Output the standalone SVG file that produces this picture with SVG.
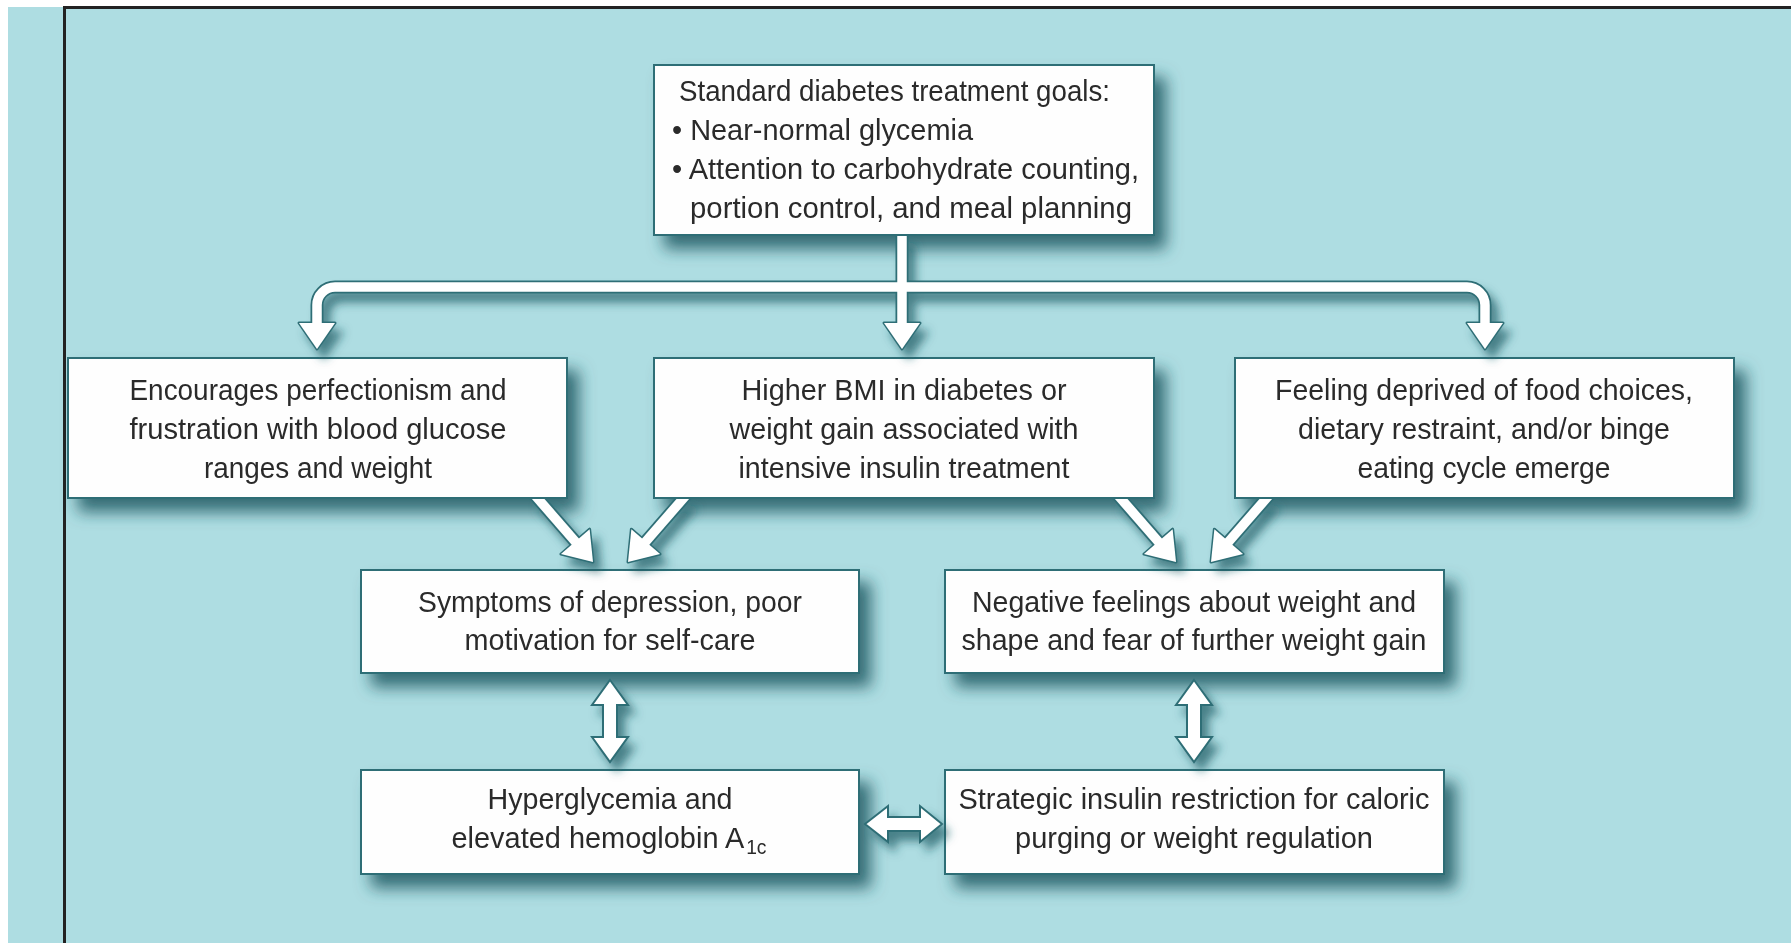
<svg xmlns="http://www.w3.org/2000/svg" xmlns:xlink="http://www.w3.org/1999/xlink" width="1791" height="943" viewBox="0 0 1791 943">
<style>
.box{fill:#fefefe;stroke:#2f6e76;stroke-width:2}
.t{font-family:"Liberation Sans",Arial,sans-serif;font-size:30px;fill:#2b2b2b}
.c{text-anchor:middle}
.sd{fill:none;stroke:#2f6e76;stroke-width:13}
.sw{fill:none;stroke:#ffffff;stroke-width:9.5}
.hd{fill:#2f6e76;stroke:#2f6e76;stroke-width:3;stroke-linejoin:round}
.hw{fill:#ffffff}
.dbl{fill:#ffffff;stroke:#2f6e76;stroke-width:2;stroke-linejoin:miter}
</style>
<defs>
<filter id="shadow" x="-10%" y="-10%" width="130%" height="160%">
<feDropShadow dx="11" dy="13" stdDeviation="8" flood-color="#1a5a63" flood-opacity="0.85"/>
</filter>
<filter id="ashadow" x="-20%" y="-20%" width="140%" height="160%">
<feDropShadow dx="7" dy="9" stdDeviation="5" flood-color="#1a5a63" flood-opacity="0.7"/>
</filter>
<clipPath id="belowMid"><rect x="0" y="499" width="1791" height="100"/></clipPath>
<g id="diag">
<path class="sd" d="M0,-115 V-24"/>
<polygon class="hd" points="-19,-27 19,-27 0,0"/>
<path class="sw" d="M0,-115 V-24"/>
<polygon class="hw" points="-19,-27 19,-27 0,0"/>
</g>
</defs>

<rect x="0" y="0" width="1791" height="943" fill="#ffffff"/>
<rect x="8" y="7" width="1783" height="936" fill="#aedde2"/>
<line x1="63" y1="7.5" x2="1791" y2="7.5" stroke="#222222" stroke-width="3"/>
<line x1="64.5" y1="6" x2="64.5" y2="943" stroke="#222222" stroke-width="3"/>

<g id="nodes" filter="url(#shadow)">
<g id="n-top">
<rect class="box" x="654" y="65" width="500" height="170"/>
<text class="t" x="679" y="101" textLength="431" lengthAdjust="spacingAndGlyphs">Standard diabetes treatment goals:</text>
<text class="t" x="672" y="140" textLength="301" lengthAdjust="spacingAndGlyphs">• Near-normal glycemia</text>
<text class="t" x="672" y="179" textLength="467" lengthAdjust="spacingAndGlyphs">• Attention to carbohydrate counting,</text>
<text class="t" x="690" y="218" textLength="442" lengthAdjust="spacingAndGlyphs">portion control, and meal planning</text>
</g>
<g id="n-perfectionism">
<rect class="box" x="68" y="358" width="499" height="140"/>
<text class="t c" x="318" y="400" textLength="377" lengthAdjust="spacingAndGlyphs">Encourages perfectionism and</text>
<text class="t c" x="318" y="439" textLength="377" lengthAdjust="spacingAndGlyphs">frustration with blood glucose</text>
<text class="t c" x="318" y="478" textLength="228" lengthAdjust="spacingAndGlyphs">ranges and weight</text>
</g>
<g id="n-bmi">
<rect class="box" x="654" y="358" width="500" height="140"/>
<text class="t c" x="904" y="400" textLength="325" lengthAdjust="spacingAndGlyphs">Higher BMI in diabetes or</text>
<text class="t c" x="904" y="439" textLength="349" lengthAdjust="spacingAndGlyphs">weight gain associated with</text>
<text class="t c" x="904" y="478" textLength="331" lengthAdjust="spacingAndGlyphs">intensive insulin treatment</text>
</g>
<g id="n-deprived">
<rect class="box" x="1235" y="358" width="499" height="140"/>
<text class="t c" x="1484" y="400" textLength="418" lengthAdjust="spacingAndGlyphs">Feeling deprived of food choices,</text>
<text class="t c" x="1484" y="439" textLength="372" lengthAdjust="spacingAndGlyphs">dietary restraint, and/or binge</text>
<text class="t c" x="1484" y="478" textLength="253" lengthAdjust="spacingAndGlyphs">eating cycle emerge</text>
</g>
<g id="n-depression">
<rect class="box" x="361" y="570" width="498" height="103"/>
<text class="t c" x="610" y="612" textLength="384" lengthAdjust="spacingAndGlyphs">Symptoms of depression, poor</text>
<text class="t c" x="610" y="650" textLength="291" lengthAdjust="spacingAndGlyphs">motivation for self-care</text>
</g>
<g id="n-negative">
<rect class="box" x="945" y="570" width="499" height="103"/>
<text class="t c" x="1194" y="612" textLength="444" lengthAdjust="spacingAndGlyphs">Negative feelings about weight and</text>
<text class="t c" x="1194" y="650" textLength="465" lengthAdjust="spacingAndGlyphs">shape and fear of further weight gain</text>
</g>
<g id="n-hyperglycemia">
<rect class="box" x="361" y="770" width="498" height="104"/>
<text class="t c" x="610" y="809" textLength="245" lengthAdjust="spacingAndGlyphs">Hyperglycemia and</text>
<text class="t c" x="609" y="848" textLength="315" lengthAdjust="spacingAndGlyphs">elevated hemoglobin A<tspan font-size="20" dx="2" dy="6">1c</tspan></text>
</g>
<g id="n-insulin">
<rect class="box" x="945" y="770" width="499" height="104"/>
<text class="t c" x="1194" y="809" textLength="471" lengthAdjust="spacingAndGlyphs">Strategic insulin restriction for caloric</text>
<text class="t c" x="1194" y="848" textLength="358" lengthAdjust="spacingAndGlyphs">purging or weight regulation</text>
</g>
</g>

<g id="connectors" filter="url(#ashadow)">
<g id="tree">
<path class="sd" d="M902,236 V327"/>
<path class="sd" d="M317,327 V305 A18,18 0 0 1 335,287 H1467 A18,18 0 0 1 1485,305 V327"/>
<polygon class="hd" points="299,323 335,323 317,349"/>
<polygon class="hd" points="884,323 920,323 902,349"/>
<polygon class="hd" points="1467,323 1503,323 1485,349"/>
<path class="sw" d="M902,236 V327"/>
<path class="sw" d="M317,327 V305 A18,18 0 0 1 335,287 H1467 A18,18 0 0 1 1485,305 V327"/>
<polygon class="hw" points="299,323 335,323 317,349"/>
<polygon class="hw" points="884,323 920,323 902,349"/>
<polygon class="hw" points="1467,323 1503,323 1485,349"/>
</g>
<g id="diagonals" clip-path="url(#belowMid)">
<g transform="translate(593,562) rotate(-41)"><use xlink:href="#diag"/></g>
<g transform="translate(628,562) rotate(41)"><use xlink:href="#diag"/></g>
<g transform="translate(1176,562) rotate(-41)"><use xlink:href="#diag"/></g>
<g transform="translate(1211,562) rotate(41)"><use xlink:href="#diag"/></g>
</g>
<polygon id="e-dep-hyper" class="dbl" points="610,680 628,705 617,705 617,737 628,737 610,762 592,737 603,737 603,705 592,705"/>
<polygon id="e-neg-ins" class="dbl" points="1194,680 1212,705 1201,705 1201,737 1212,737 1194,762 1176,737 1187,737 1187,705 1176,705"/>
<polygon id="e-hyper-ins" class="dbl" points="865,824 888,806 888,817 920,817 920,806 942,824 920,842 920,831 888,831 888,842"/>
</g>
</svg>
